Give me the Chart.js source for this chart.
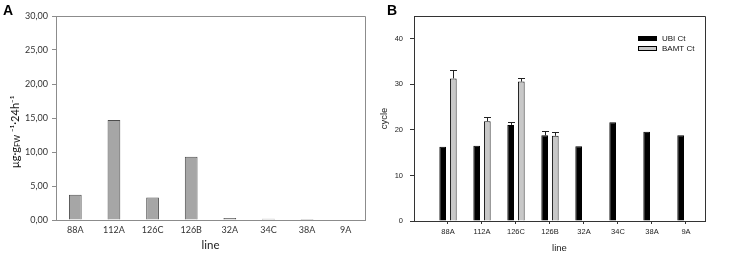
<!DOCTYPE html>
<html><head><meta charset="utf-8">
<script src="https://cdn.jsdelivr.net/npm/chart.js@4/dist/chart.umd.min.js"></script>
<style>
body{margin:0;background:#fff;width:730px;height:260px;position:relative;overflow:hidden}
#wa{position:absolute;left:0;top:0;width:370px;height:260px}
#wb{position:absolute;left:370px;top:0;width:360px;height:260px}
.pl{position:absolute;font:bold 14px 'Liberation Sans',Arial,sans-serif;line-height:14px;color:#000}
</style></head><body>
<div id="wa"><canvas id="ca" width="370" height="260"></canvas></div>
<div id="wb"><canvas id="cb" width="360" height="260"></canvas></div>
<div class="pl" style="left:3px;top:3px">A</div>
<div class="pl" style="left:387px;top:3px">B</div>
<script>
const lines = ['88A','112A','126C','126B','32A','34C','38A','9A'];
const rateA = [3.7, 14.7, 3.3, 9.3, 0.3, 0.2, 0.15, 0];
const ubiCt = [16.3, 16.5, 21.1, 18.8, 16.4, 21.7, 19.6, 18.8];
const ubiErr = [0, 0, 0.6, 0.9, 0, 0, 0, 0];
const bamtCt = [31.3, 21.9, 30.6, 18.7, null, null, null, null];
const bamtErr = [1.8, 0.9, 0.9, 0.9, null, null, null, null];
const ticksA = [0, 5, 10, 15, 20, 25, 30];
const ticksB = [0, 10, 20, 30, 40];
const linePos = [1, 2, 3, 4, 5, 6, 7, 8];
// y-title of panel A as [text, kind] pieces: n normal, b subscript, p superscript
const titleA = [['µg·g', 'n'], ['FW', 'b'], [' ⁻¹', 'n'], ['·24h', 'n'], ['⁻¹', 'n']];

const frame = {
  id: 'frame',
  afterDraw(chart, args, opts) {
    const a = chart.chartArea, c = chart.ctx;
    c.save();
    c.strokeStyle = opts.color; c.lineWidth = 1;
    c.beginPath();
    c.moveTo(Math.round(a.left) + 0.5, Math.round(a.top) + 0.5);
    c.lineTo(Math.round(a.right) + 0.5, Math.round(a.top) + 0.5);
    c.lineTo(Math.round(a.right) + 0.5, Math.round(a.bottom) + 0.5);
    c.stroke();
    c.restore();
  }
};

const yTitleA = {
  id: 'yTitleA',
  afterDraw(chart) {
    const c = chart.ctx, a = chart.chartArea;
    const fam = 'Lato, "Open Sans", sans-serif';
    const fN = '11px ' + fam, fS = '7.5px ' + fam;
    c.save();
    let w = 0;
    titleA.forEach(([t, k]) => { c.font = k === 'n' ? fN : fS; w += c.measureText(t).width; });
    c.translate(15, (a.top + a.bottom) / 2 + 14);
    c.rotate(-Math.PI / 2);
    c.fillStyle = '#111';
    c.textBaseline = 'middle';
    let x = -w / 2;
    titleA.forEach(([t, k]) => {
      c.font = k === 'n' ? fN : fS;
      c.fillText(t, x, k === 'b' ? 3 : 0);
      x += c.measureText(t).width;
    });
    c.restore();
  }
};

const errBars = {
  id: 'errBars',
  afterDatasetsDraw(chart, args, opts) {
    if (!opts.errors) return;
    const c = chart.ctx, y = chart.scales.y;
    opts.errors.forEach((errs, d) => {
      const meta = chart.getDatasetMeta(d);
      const vals = chart.data.datasets[d].data;
      meta.data.forEach((el, i) => {
        const e = errs[i];
        const v = vals[i] && vals[i].y;
        if (v == null || !e) return;
        const yt = y.getPixelForValue(v + e);
        c.save();
        c.strokeStyle = '#222'; c.lineWidth = 1;
        c.beginPath();
        const x = Math.round(el.x) + 0.5;
        c.moveTo(x, el.y); c.lineTo(x, Math.round(yt) + 0.5);
        c.moveTo(x - 3.5, Math.round(yt) + 0.5); c.lineTo(x + 3.5, Math.round(yt) + 0.5);
        c.stroke();
        c.restore();
      });
    });
  }
};

const legendB = {
  id: 'legendB',
  afterDraw(chart) {
    const c = chart.ctx, a = chart.chartArea;
    const x0 = a.right - 67;
    chart.data.datasets.forEach((ds, i) => {
      const yy = 36 + i * 10;
      c.save();
      c.fillStyle = ds.backgroundColor;
      c.fillRect(x0, yy, 19, 5);
      c.strokeStyle = '#000'; c.lineWidth = 1;
      c.strokeRect(x0 + 0.5, yy + 0.5, 18, 4);
      c.fillStyle = '#111';
      c.font = '8px "Liberation Sans", Arial, sans-serif';
      c.textBaseline = 'middle';
      c.fillText(ds.label, x0 + 24, yy + 2.5);
      c.restore();
    });
  }
};

const fontA = {family: 'Lato, "Open Sans", sans-serif', size: 9};
new Chart(document.getElementById('ca'), {
  type: 'bar',
  data: {labels: lines, datasets: [{
    data: rateA, backgroundColor: '#a6a6a6', borderColor: '#4d4d4d', borderWidth: 1,
    categoryPercentage: 1, barPercentage: 0.33
  }]},
  plugins: [frame, yTitleA],
  options: {
    responsive: false, animation: false,
    layout: {padding: {left: 0, right: 5, top: 16, bottom: 0}},
    plugins: {legend: {display: false}, tooltip: {enabled: false}, frame: {color: '#8c8c8c'}},
    scales: {
      x: {
        grid: {display: false, drawTicks: false},
        border: {color: '#8c8c8c'},
        ticks: {padding: 5, color: '#333', font: fontA, maxRotation: 0},
        title: {display: true, text: 'line', color: '#222', font: {family: 'Lato, sans-serif', size: 11.5}, padding: {top: 0, bottom: 8}},
        afterFit(s) { s.height = 40; }
      },
      y: {
        min: 0, max: 30,
        afterBuildTicks(s) { s.ticks = ticksA.map(v => ({value: v})); },
        ticks: {padding: 4, color: '#333', font: fontA, callback: v => v.toFixed(2).replace('.', ',')},
        grid: {drawOnChartArea: false, tickLength: 4, color: '#8c8c8c'},
        border: {color: '#8c8c8c'},
        afterFit(s) { s.width = 56; }
      }
    }
  }
});

const fontB = {family: '"Liberation Sans", Arial, sans-serif', size: 7.5};
new Chart(document.getElementById('cb'), {
  type: 'bar',
  data: {datasets: [
    {label: 'UBI Ct', data: linePos.map((p, i) => ({x: p, y: ubiCt[i]})), backgroundColor: '#000', borderColor: '#000', borderWidth: 1,
     categoryPercentage: 0.625, barPercentage: 0.63},
    {label: 'BAMT Ct', data: linePos.map((p, i) => ({x: p, y: bamtCt[i]})), backgroundColor: '#c8c8c8', borderColor: '#111', borderWidth: 1,
     categoryPercentage: 0.625, barPercentage: 0.63}
  ]},
  plugins: [frame, errBars, legendB],
  options: {
    responsive: false, animation: false,
    layout: {padding: {left: 0, right: 25, top: 16, bottom: 0}},
    plugins: {legend: {display: false}, tooltip: {enabled: false}, frame: {color: '#333'}, errBars: {errors: [ubiErr, bamtErr]}},
    scales: {
      x: {
        type: 'linear', min: 0, max: 8.56, offset: false,
        afterBuildTicks(s) { s.ticks = linePos.map(v => ({value: v})); },
        grid: {drawOnChartArea: false, tickLength: 3, color: '#333', offset: false},
        border: {color: '#333'},
        ticks: {padding: 3, color: '#222', font: fontB, autoSkip: false, maxRotation: 0, callback: v => lines[v - 1]},
        title: {display: true, text: 'line', color: '#222', font: {family: '"Liberation Sans", Arial, sans-serif', size: 9.5}, padding: {top: 0, bottom: 6}},
        afterFit(s) { s.height = 39; }
      },
      y: {
        min: 0, max: 45,
        afterBuildTicks(s) { s.ticks = ticksB.map(v => ({value: v})); },
        ticks: {padding: 7, color: '#222', font: fontB},
        grid: {drawOnChartArea: false, tickLength: 4, color: '#333'},
        border: {color: '#333'},
        title: {display: true, text: 'cycle', color: '#222', font: {family: '"Liberation Sans", Arial, sans-serif', size: 9.5}, padding: {top: 9, bottom: 0}},
        afterFit(s) { s.width = 44; }
      }
    }
  }
});
</script>
</body></html>
